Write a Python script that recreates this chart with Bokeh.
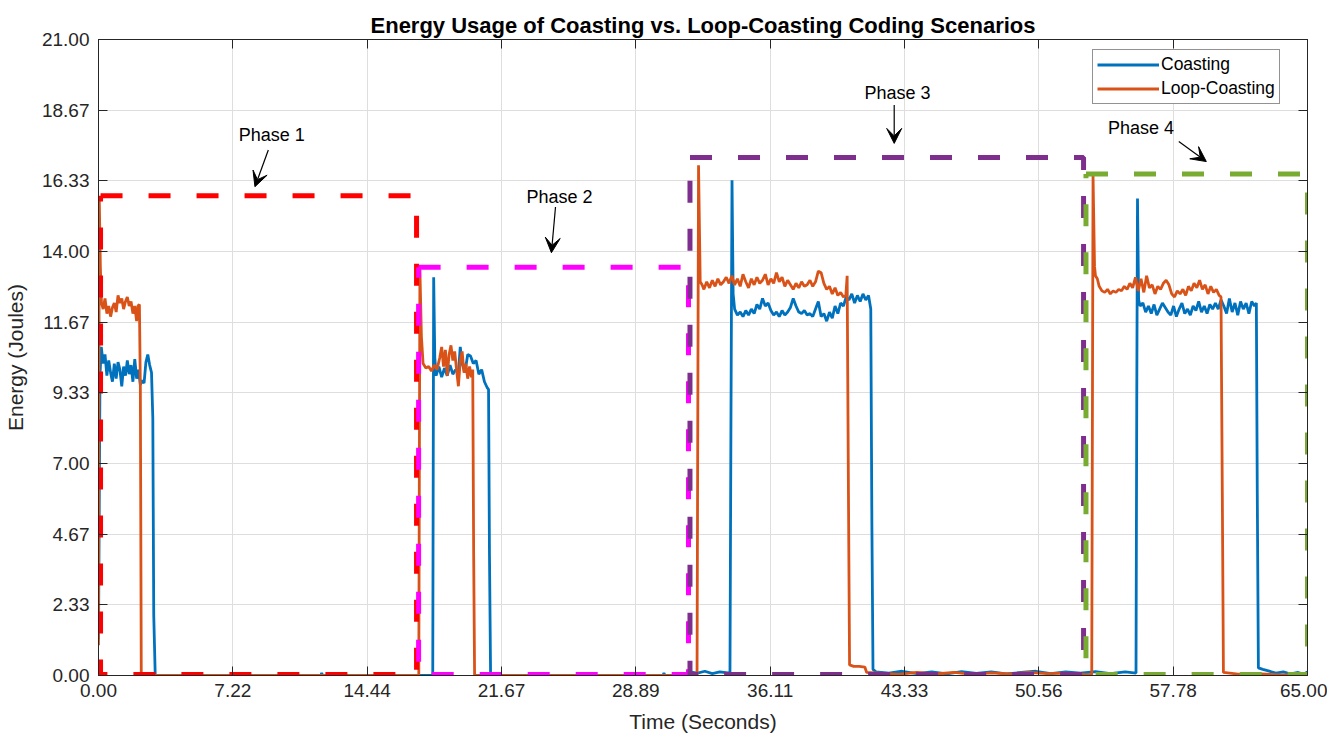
from bokeh.plotting import figure
from bokeh.models import (FixedTicker, LinearAxis, Range1d, Legend, LegendItem,
                          Arrow, VeeHead, Label)
from bokeh.embed import file_html
from bokeh.resources import INLINE

# ---------------- data ----------------
coast_t_p1 = [0.00, 0.08, 0.15, 0.25, 0.35, 0.45, 0.55, 0.65, 0.75, 0.85, 0.95, 1.05, 1.15, 1.25,
              1.35, 1.45, 1.55, 1.65, 1.75, 1.85, 1.95, 2.05, 2.15, 2.25, 2.35, 2.45, 2.55, 2.65,
              2.75, 2.85, 2.92, 2.97, 3.05, 11.95, 12.00, 12.05, 17.97]
coast_e_p1 = [1.20, 9.90, 10.85, 10.30, 10.60, 9.90, 10.40, 10.00, 9.70, 10.30, 9.80, 10.35, 10.10, 9.55,
              10.20, 9.90, 10.40, 9.95, 10.25, 9.70, 10.45, 9.80, 10.10, 9.60, 9.75, 9.65, 10.35, 10.60,
              10.25, 10.00, 8.50, 2.00, 0.00, 0.00, 0.08, 0.00, 0.00]
coast_t_p2 = [18.02, 18.08, 18.15, 18.30, 18.45, 18.60, 18.75, 18.90, 19.05, 19.20, 19.35, 19.45,
              19.55, 19.70, 19.85, 20.00, 20.15, 20.30, 20.45, 20.60, 20.75, 20.90, 20.97, 21.02,
              21.08, 30.35, 30.40, 30.45, 31.35, 31.40, 31.45, 31.70, 31.80, 32.20, 32.60, 33.00,
              33.40, 33.95]
coast_e_p2 = [13.15, 10.50, 9.90, 10.20, 9.85, 10.15, 9.90, 10.25, 9.95, 10.10, 10.00, 10.85,
              10.30, 10.00, 10.60, 10.55, 10.30, 10.40, 9.95, 10.10, 9.70, 9.50, 9.45, 4.00,
              0.00, 0.00, 0.08, 0.00, 0.00, 0.10, 0.00, 0.00, 0.12, 0.08, 0.14, 0.06,
              0.12, 0.08]
coast_t_p3 = [34.00, 34.06, 34.12, 34.20, 34.35, 34.50, 34.65, 34.80, 34.95, 35.10, 35.25, 35.40,
              35.55, 35.70, 35.85, 36.00, 36.15, 36.30, 36.45, 36.60, 36.75, 36.90, 37.05, 37.20,
              37.35, 37.50, 37.65, 37.80, 37.95, 38.10, 38.25, 38.40, 38.55, 38.70, 38.85, 39.00,
              39.15, 39.30, 39.45, 39.60, 39.75, 39.90, 40.05, 40.20, 40.35, 40.50, 40.65, 40.80,
              40.95, 41.10, 41.25, 41.40, 41.52, 41.58, 41.64, 41.80, 42.50, 43.20, 44.00, 44.80,
              45.60, 46.40, 47.20, 48.00, 48.80, 49.60, 50.40, 51.20, 52.00, 52.80, 53.60, 54.40,
              55.20, 55.78]
coast_e_p3 = [8.00, 16.35, 12.60, 12.10, 11.90, 12.00, 11.85, 12.05, 11.90, 12.10, 11.95, 12.25,
              12.10, 12.45, 12.20, 12.30, 12.05, 11.90, 12.00, 11.85, 12.05, 11.90, 12.00, 12.15,
              12.45, 12.20, 12.00, 11.95, 12.05, 11.90, 11.95, 11.85, 12.10, 12.35, 11.85, 11.95,
              11.70, 12.00, 11.80, 12.20, 11.95, 12.30, 12.20, 12.50, 12.40, 12.60, 12.30, 12.55,
              12.35, 12.60, 12.40, 12.55, 12.10, 5.00, 0.20, 0.12, 0.08, 0.14, 0.06, 0.12,
              0.05, 0.13, 0.07, 0.12, 0.05, 0.10, 0.14, 0.06, 0.12, 0.08, 0.13, 0.06,
              0.12, 0.08]
coast_t_p4 = [55.82, 55.86, 55.92, 56.00, 56.15, 56.30, 56.45, 56.60, 56.75, 56.90, 57.05, 57.20,
              57.35, 57.50, 57.65, 57.80, 57.95, 58.10, 58.25, 58.40, 58.55, 58.70, 58.85, 59.00,
              59.15, 59.30, 59.45, 59.60, 59.75, 59.90, 60.05, 60.20, 60.35, 60.50, 60.65, 60.80,
              60.95, 61.10, 61.25, 61.40, 61.55, 61.70, 61.85, 62.00, 62.15, 62.25, 62.30, 62.36,
              62.60, 62.90, 63.30, 63.70, 64.10, 64.50, 64.80, 65.00]
coast_e_p4 = [9.00, 15.75, 12.40, 12.20, 12.30, 12.00, 12.20, 11.95, 12.25, 11.90, 12.10, 12.30,
              12.15, 12.00, 11.90, 12.20, 11.85, 12.10, 12.30, 11.95, 12.10, 11.90, 12.20, 12.05,
              12.35, 12.00, 12.20, 11.95, 12.25, 12.10, 12.30, 12.10, 12.40, 12.20, 11.95, 12.45,
              12.00, 12.30, 11.90, 12.35, 12.10, 12.30, 11.95, 12.35, 12.20, 12.30, 6.00, 0.25,
              0.20, 0.15, 0.08, 0.12, 0.05, 0.10, 0.04, 0.12]

loop_t_p1 = [0.00, 0.04, 0.10, 0.16, 0.25, 0.35, 0.45, 0.55, 0.65, 0.75, 0.85, 0.95, 1.05, 1.15,
             1.25, 1.35, 1.45, 1.55, 1.65, 1.75, 1.85, 1.95, 2.05, 2.12, 2.20, 2.25, 2.30, 17.22]
loop_e_p1 = [1.00, 15.80, 13.50, 12.30, 12.10, 12.45, 11.95, 12.20, 11.85, 12.15, 12.30, 12.00,
             12.55, 12.30, 12.45, 12.10, 12.35, 12.50, 12.20, 12.35, 11.95, 12.20, 11.70, 12.20,
             12.25, 9.50, 0.00, 0.00]
loop_t_p2 = [17.28, 17.36, 17.45, 17.60, 17.75, 17.90, 18.05, 18.20, 18.35, 18.45, 18.55, 18.65,
             18.75, 18.85, 18.95, 19.05, 19.15, 19.25, 19.35, 19.45, 19.55, 19.65, 19.75, 19.85,
             19.95, 20.05, 20.12, 20.17, 20.22, 32.18]
loop_e_p2 = [13.40, 11.20, 10.30, 10.15, 10.20, 10.05, 10.25, 10.10, 10.50, 10.85, 10.20, 10.75,
             9.90, 10.60, 10.90, 10.40, 10.70, 10.10, 9.55, 10.40, 10.70, 10.00, 10.30, 9.80,
             10.20, 9.85, 10.10, 4.00, 0.00, 0.00]
loop_t_p3 = [32.26, 32.35, 32.45, 32.55, 32.70, 32.85, 33.00, 33.15, 33.30, 33.45, 33.60, 33.75,
             33.90, 34.05, 34.20, 34.35, 34.50, 34.65, 34.80, 34.95, 35.10, 35.25, 35.40, 35.55,
             35.70, 35.85, 36.00, 36.15, 36.30, 36.45, 36.60, 36.75, 36.90, 37.05, 37.20, 37.35,
             37.50, 37.65, 37.80, 37.95, 38.10, 38.25, 38.40, 38.55, 38.70, 38.85, 39.00, 39.15,
             39.30, 39.45, 39.60, 39.75, 39.90, 40.05, 40.18, 40.25, 40.32, 40.38, 40.60, 40.90,
             41.20, 41.30, 42.00, 43.00, 44.00, 45.00, 46.00, 47.00, 48.00, 49.00, 50.00, 51.00,
             52.00, 53.00, 53.40]
loop_e_p3 = [16.85, 13.00, 12.90, 12.75, 13.00, 12.80, 13.05, 12.85, 13.10, 12.90, 13.00, 13.15,
             12.95, 13.20, 12.90, 13.10, 12.85, 13.25, 13.00, 12.80, 13.10, 12.90, 13.15, 12.95,
             13.05, 13.25, 12.90, 13.10, 12.95, 13.30, 13.00, 13.15, 12.85, 13.05, 12.90, 12.75,
             12.95, 12.80, 13.00, 12.85, 12.90, 13.05, 12.85, 13.00, 13.35, 13.30, 12.95, 12.75,
             12.85, 12.60, 12.80, 12.55, 12.65, 12.50, 12.55, 13.20, 6.00, 0.35, 0.30, 0.30,
             0.28, 0.10, 0.08, 0.04, 0.10, 0.05, 0.10, 0.04, 0.09, 0.05, 0.10, 0.06,
             0.08, 0.04, 0.03]
loop_t_p4 = [53.47, 53.55, 53.60, 53.70, 53.80, 53.95, 54.10, 54.25, 54.40, 54.55, 54.70, 54.85,
             55.00, 55.15, 55.30, 55.45, 55.60, 55.75, 55.90, 56.05, 56.20, 56.35, 56.50, 56.65,
             56.80, 56.95, 57.10, 57.25, 57.40, 57.55, 57.70, 57.85, 58.00, 58.15, 58.30, 58.45,
             58.60, 58.75, 58.90, 59.05, 59.20, 59.35, 59.50, 59.65, 59.80, 59.95, 60.10, 60.25,
             60.35, 60.42, 60.48, 61.50, 62.50, 63.50, 65.00]
loop_e_p4 = [16.50, 13.50, 13.20, 13.10, 12.85, 12.70, 12.65, 12.75, 12.60, 12.70, 12.65, 12.75,
             12.70, 12.85, 12.75, 12.95, 12.80, 13.15, 12.70, 13.10, 12.65, 13.20, 12.80, 12.90,
             12.60, 12.85, 12.75, 12.95, 13.05, 12.90, 12.60, 12.50, 12.70, 12.60, 12.75, 12.55,
             12.85, 12.70, 12.95, 12.80, 13.05, 12.75, 12.90, 12.60, 12.85, 12.65, 12.75, 12.55,
             12.50, 6.00, 0.10, 0.03, 0.05, 0.02, 0.02]

coasting_t = coast_t_p1 + coast_t_p2 + coast_t_p3 + coast_t_p4
coasting_e = coast_e_p1 + coast_e_p2 + coast_e_p3 + coast_e_p4
loop_t = loop_t_p1 + loop_t_p2 + loop_t_p3 + loop_t_p4
loop_e = loop_e_p1 + loop_e_p2 + loop_e_p3 + loop_e_p4

series_names = ["Coasting", "Loop-Coasting"]
series_colors = ["#0072BD", "#D95319"]

x_ticks = [0.0, 7.2222, 14.4444, 21.6667, 28.8889, 36.1111, 43.3333, 50.5556, 57.7778, 65.0]
y_ticks = [0.0, 2.3333, 4.6667, 7.0, 9.3333, 11.6667, 14.0, 16.3333, 18.6667, 21.0]
x_tick_labels = ["0.00", "7.22", "14.44", "21.67", "28.89", "36.11", "43.33", "50.56", "57.78", "65.00"]
y_tick_labels = ["0.00", "2.33", "4.67", "7.00", "9.33", "11.67", "14.00", "16.33", "18.67", "21.00"]

# phase boxes and labels
phase_names = ["Phase 1", "Phase 2", "Phase 3", "Phase 4"]
phase_colors = ["#FF0000", "#FF00FF", "#7E2F8E", "#77AC30"]
phase_x0 = [0.11, 17.21, 31.80, 53.09]
phase_x1 = [17.10, 31.72, 52.96, 65.00]
phase_y0 = [0.03, 0.03, 0.03, 0.03]
phase_y1 = [15.84, 13.48, 17.10, 16.56]
label_x = [9.31, 24.79, 42.96, 56.05]
label_y = [17.85, 15.81, 19.25, 18.07]
arrow_x_start = [9.13, 24.57, 42.78, 58.08]
arrow_y_start = [17.35, 15.47, 18.84, 17.63]
arrow_x_end = [8.41, 24.35, 42.78, 59.56]
arrow_y_end = [16.14, 13.96, 17.57, 16.97]

FONT = "Liberation Sans"
DARK = "#262626"

p = figure(frame_width=1209, frame_height=636, output_backend="svg", toolbar_location=None,
           x_range=Range1d(0, 65), y_range=Range1d(0, 21),
           min_border_left=97, min_border_top=39, min_border_bottom=62, min_border_right=20,
           background_fill_color="white", border_fill_color="white")

p.title.text = "Energy Usage of Coasting vs. Loop-Coasting Coding Scenarios"
p.title.align = "center"
p.title.text_font = FONT
p.title.text_font_size = "22px"
p.title.text_font_style = "bold"
p.title.text_color = "#000000"
p.title.standoff = 3

p.outline_line_color = DARK
p.outline_line_width = 1

xt = FixedTicker(ticks=x_ticks, minor_ticks=[])
yt = FixedTicker(ticks=y_ticks, minor_ticks=[])

def style_axis(ax, ticks, labels, show_labels=True):
    ax.axis_line_color = DARK
    ax.major_tick_line_color = DARK
    ax.major_tick_in = 9
    ax.major_tick_out = 0
    ax.minor_tick_line_color = None
    ax.major_label_text_font = FONT
    if show_labels:
        ax.major_label_overrides = {t: l for t, l in zip(ticks, labels)}
        ax.major_label_text_font_size = "19px"
        ax.major_label_text_color = DARK
    else:
        ax.major_label_text_font_size = "1px"
        ax.major_label_text_color = None
        ax.major_label_standoff = 0

p.xaxis.ticker = xt
p.yaxis.ticker = yt
style_axis(p.xaxis[0], x_ticks, x_tick_labels)
style_axis(p.yaxis[0], y_ticks, y_tick_labels)
p.xaxis.major_label_standoff = 8
p.yaxis.major_label_standoff = 9
p.xaxis.axis_label = "Time (Seconds)"
p.yaxis.axis_label = "Energy (Joules)"
for ax in (p.xaxis[0], p.yaxis[0]):
    ax.axis_label_text_font = FONT
    ax.axis_label_text_font_size = "21px"
    ax.axis_label_text_font_style = "normal"
    ax.axis_label_text_color = DARK
p.xaxis.axis_label_standoff = 10
p.yaxis.axis_label_standoff = 12

top_ax = LinearAxis(ticker=xt)
style_axis(top_ax, x_ticks, x_tick_labels, show_labels=False)
p.add_layout(top_ax, "above")
right_ax = LinearAxis(ticker=yt)
style_axis(right_ax, y_ticks, y_tick_labels, show_labels=False)
p.add_layout(right_ax, "right")

p.xgrid.ticker = xt
p.ygrid.ticker = yt
p.grid.grid_line_color = "#dedede"
p.grid.grid_line_width = 1

# data lines
r1 = p.line(coasting_t, coasting_e, line_color=series_colors[0], line_width=2.8)
r2 = p.line(loop_t, loop_e, line_color=series_colors[1], line_width=2.8)

# phase boxes
for i in range(4):
    xs = [phase_x0[i], phase_x1[i], phase_x1[i], phase_x0[i], phase_x0[i]]
    ys = [phase_y1[i], phase_y1[i], phase_y0[i], phase_y0[i], phase_y1[i]]
    p.line(xs, ys, line_color=phase_colors[i], line_width=5, line_dash="22 26")

# phase labels and arrows
for i in range(4):
    p.add_layout(Label(x=label_x[i], y=label_y[i], text=phase_names[i], text_font=FONT,
                       text_font_size="18px", text_color="#000000",
                       text_align="center", text_baseline="middle"))
    p.add_layout(Arrow(x_start=arrow_x_start[i], y_start=arrow_y_start[i],
                       x_end=arrow_x_end[i], y_end=arrow_y_end[i],
                       line_color="#000000", line_width=1.2,
                       end=VeeHead(size=15, fill_color="#000000", line_color="#000000")))

legend = Legend(items=[LegendItem(label=series_names[0], renderers=[r1]),
                       LegendItem(label=series_names[1], renderers=[r2])],
                location=(994, 571))
legend.label_text_font = FONT
legend.label_text_font_size = "17.5px"
legend.label_text_color = "#000000"
legend.glyph_width = 62
legend.glyph_height = 21
legend.label_height = 21
legend.label_standoff = 2
legend.spacing = 3
legend.padding = 4
legend.margin = 0
legend.border_line_color = "#262626"
legend.border_line_width = 1
legend.background_fill_color = "white"
legend.background_fill_alpha = 1
p.add_layout(legend)

open("out.html", "w").write(file_html(p, INLINE))
